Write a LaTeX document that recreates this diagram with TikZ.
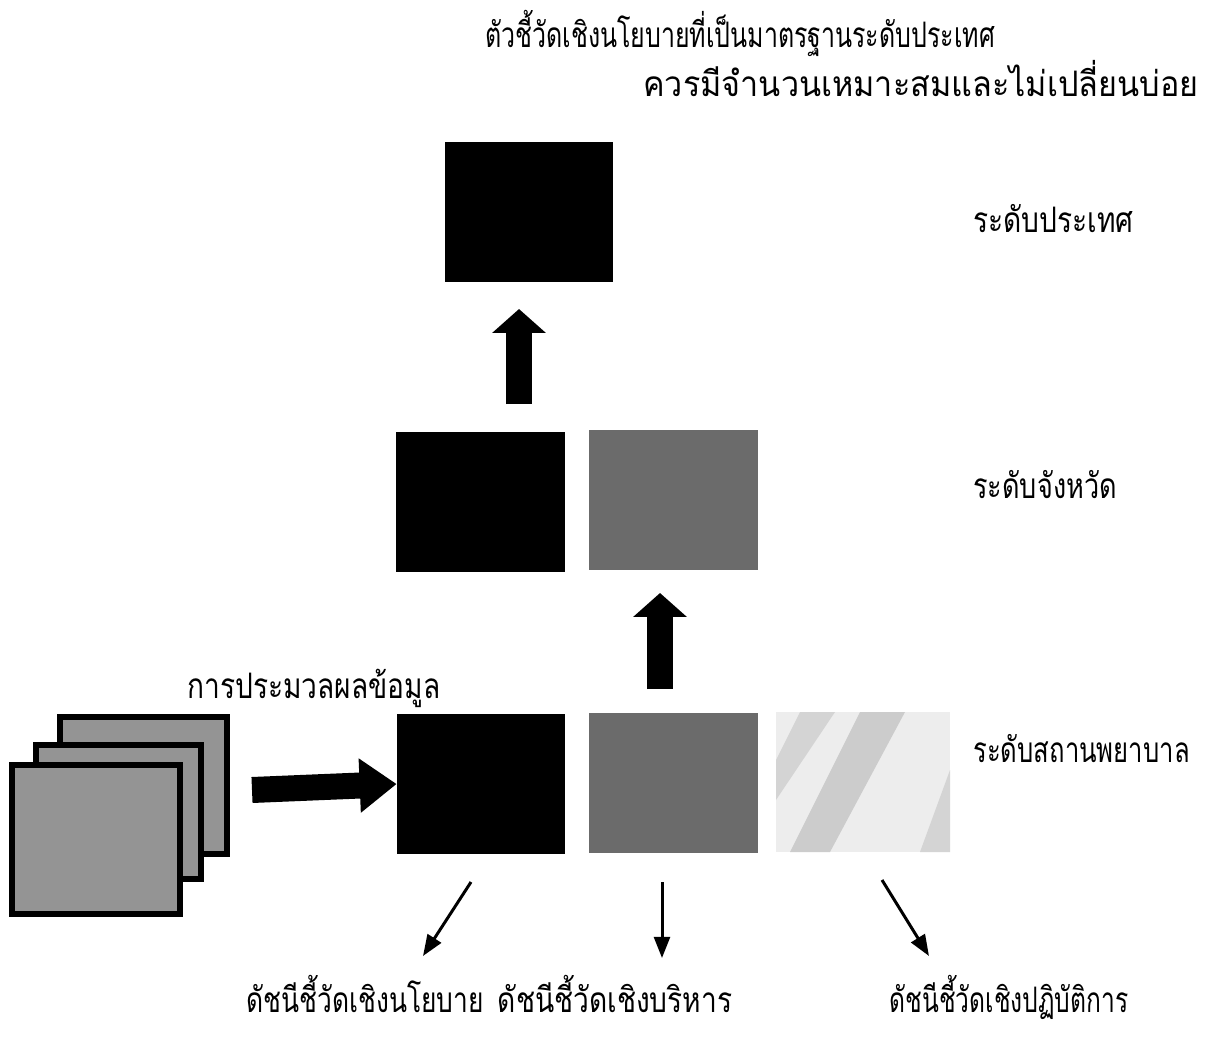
\documentclass[tikz,border=0pt]{standalone}
\usepackage{fontspec}
\newfontfamily\thaifont[Script=Thai]{Loma}
\usetikzlibrary{arrows.meta}
\newcommand\thx[2]{\scalebox{#1}[1]{#2}}
\tikzset{
  lbl/.style={inner sep=0pt, font=\thaifont\fontsize{20}{24}\selectfont},
  solidbox/.style={fill=black, draw=none, inner sep=0pt},
  midbox/.style={fill=black!58, draw=none, inner sep=0pt},
  litebox/.style={fill=black!7, draw=none, inner sep=0pt},
  docbox/.style={fill=black!42, draw=black, line width=3.4pt, inner sep=0pt},
  bigarr/.style={line width=0.52cm, -{Triangle[length=0.48cm, width=1.05cm]}},
  sidearr/.style={line width=0.52cm, -{Triangle[length=0.74cm, width=1.04cm]}},
  thinarr/.style={line width=1.7pt, -{Triangle[length=12pt, width=9pt]}}
}
\begin{document}
\begin{tikzpicture}[x=0.02cm, y=-0.02cm]
\useasboundingbox (0,0) rectangle (1207,1037);
\fill[white] (0,0) rectangle (1207,1037);

% boxes
\node[solidbox, minimum width=3.36cm, minimum height=2.8cm] (P) at (529,212) {};
\node[solidbox, minimum width=3.38cm, minimum height=2.8cm] (J1) at (480.5,502) {};
\node[midbox, minimum width=3.38cm, minimum height=2.8cm] (J2) at (673.5,500) {};
\node[solidbox, minimum width=3.36cm, minimum height=2.8cm] (H1) at (481,784) {};
\node[midbox, minimum width=3.38cm, minimum height=2.8cm] (H2) at (673.5,783) {};
\node[litebox, minimum width=3.48cm, minimum height=2.8cm] (H3) at (863,782) {};
\begin{scope}
  \clip (776,712) rectangle (950,852);
  \fill[black!20] (790,852) -- (830,852) -- (905,712) -- (860,712) -- cycle;
  \fill[black!17] (776,800) -- (776,760) -- (800,712) -- (835,712) -- cycle;
  \fill[black!17] (920,852) -- (950,852) -- (950,770) -- cycle;
\end{scope}

% stacked documents
\node[docbox, minimum width=3.34cm, minimum height=2.74cm] (D3) at (143.5,785.5) {};
\node[docbox, minimum width=3.30cm, minimum height=2.68cm] (D2) at (118.5,812) {};
\node[docbox, minimum width=3.36cm, minimum height=2.98cm] (D1) at (96,839.5) {};

% thick arrows
\coordinate (a1s) at (519,404);
\coordinate (a1e) at (519,309);
\coordinate (a2s) at (660,689);
\coordinate (a2e) at (660,593);
\coordinate (a3s) at (252,790);
\draw[bigarr] (a1s) -- (a1e);
\draw[bigarr] (a2s) -- (a2e);
\draw[sidearr] (a3s) -- (H1.west);

% thin arrows
\coordinate (b1s) at (471,882);
\coordinate (b1e) at (423,956);
\coordinate (b2s) at (662,882);
\coordinate (b2e) at (662,958);
\coordinate (b3s) at (882,880);
\coordinate (b3e) at (929,956);
\draw[thinarr] (b1s) -- (b1e);
\draw[thinarr] (b2s) -- (b2e);
\draw[thinarr] (b3s) -- (b3e);

% labels
\node[lbl, anchor=base] (t1) at (740,48) {\thx{0.71}{ตัวชี้วัดเชิงนโยบายที่เป็นมาตรฐานระดับประเทศ}};
\node[lbl, anchor=base west] (t2) at (643,97) {\thx{0.92}{ควรมีจำนวนเหมาะสมและไม่เปลี่ยนบ่อย}};
\node[lbl, anchor=base west] (L1) at (973,233) {\thx{0.8}{ระดับประเทศ}};
\node[lbl, anchor=base west] (L2) at (973,498) {\thx{0.77}{ระดับจังหวัด}};
\node[lbl, anchor=base west] (L3) at (973,762) {\thx{0.73}{ระดับสถานพยาบาล}};
\node[lbl, anchor=base west] (pr) at (187,698) {\thx{0.8}{การประมวลผลข้อมูล}};
\node[lbl, anchor=base] (i1) at (365,1012) {\thx{0.75}{ดัชนีชี้วัดเชิงนโยบาย}};
\node[lbl, anchor=base] (i2) at (615,1012) {\thx{0.8}{ดัชนีชี้วัดเชิงบริหาร}};
\node[lbl, anchor=base] (i3) at (1009,1012) {\thx{0.7}{ดัชนีชี้วัดเชิงปฏิบัติการ}};
\end{tikzpicture}
\end{document}
